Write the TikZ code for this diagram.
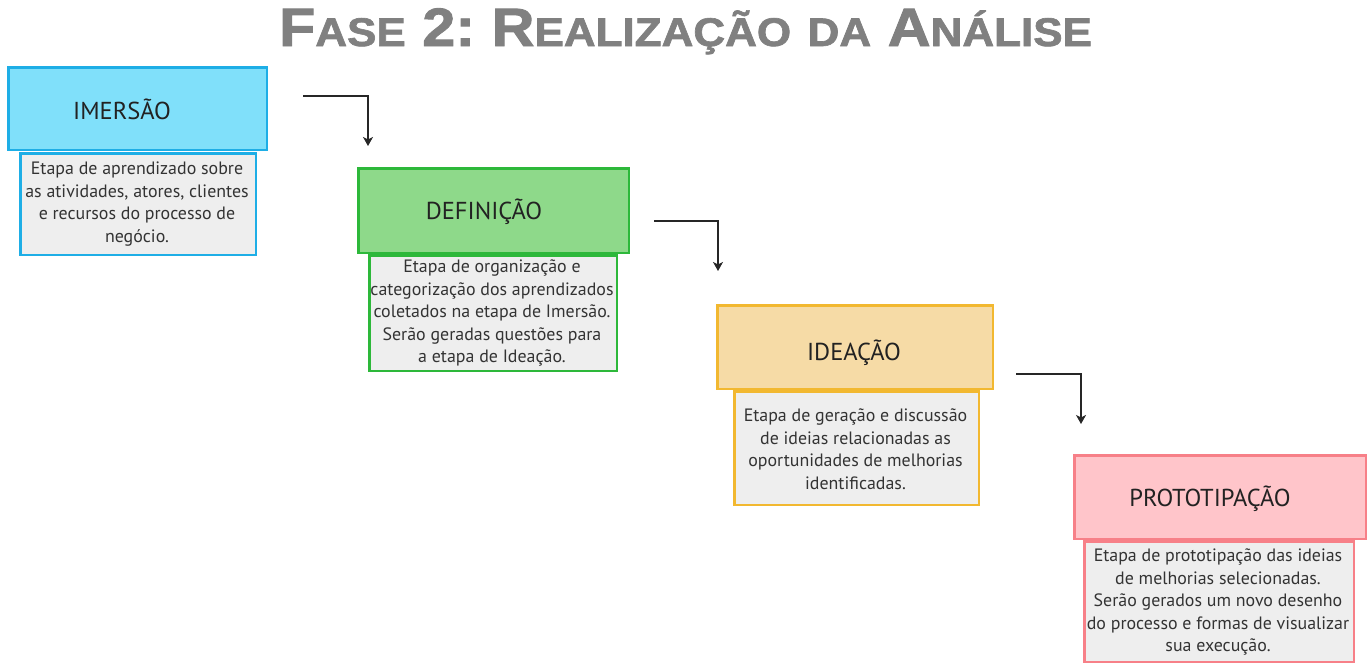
\documentclass[tikz,border=0pt]{standalone}
\usepackage{fontspec}
\setmainfont{PT Sans}
\newfontfamily\titlefont[FakeBold=1.6]{Liberation Sans Bold}
\usetikzlibrary{arrows.meta}
\definecolor{bluebd}{HTML}{1EAEE6}
\definecolor{bluefl}{HTML}{80E0FA}
\definecolor{greenbd}{HTML}{2DB83A}
\definecolor{greenfl}{HTML}{8ED98A}
\definecolor{yellowbd}{HTML}{F2B830}
\definecolor{yellowfl}{HTML}{F6DBA6}
\definecolor{pinkbd}{HTML}{F78088}
\definecolor{pinkfl}{HTML}{FFC5CA}
\definecolor{descfl}{HTML}{EEEEEE}
\definecolor{titlegray}{HTML}{808080}
\definecolor{txtdark}{HTML}{222222}
\definecolor{txtbody}{HTML}{333333}
\newcommand\tbg[1]{{\fontsize{54pt}{54pt}\selectfont #1}}
\newcommand\tsm[1]{{\fontsize{40pt}{40pt}\selectfont #1}}
\newcommand\tsp{\hspace{15pt}}
\tikzset{
  hdrbox/.style={draw, line width=2.8pt, rectangle, inner sep=0pt, anchor=north west},
  descbox/.style={draw, line width=2.8pt, rectangle, inner sep=0pt, fill=descfl, anchor=north west},
  hdrlabel/.style={anchor=base, inner sep=0pt, text=txtdark, font=\fontsize{24.5pt}{26pt}\selectfont},
  desclabel/.style={align=center, inner sep=0pt, text=txtbody, font=\fontsize{17.9pt}{22.5pt}\selectfont},
  conn/.style={draw=black!85, line width=1.2pt, -{Stealth[length=9pt,width=10pt,inset=2.5pt]}}
}
\begin{document}
\begin{tikzpicture}[x=1pt,y=-1pt]
\useasboundingbox (0,0) rectangle (1372,670);
% title
\node[anchor=base, inner sep=0pt, text=titlegray] (title) at (685.5,46)
  {\titlefont\scalebox{1.1}[1]{\tbg{F}\tsm{ASE}\tsp\tbg{2:}\tsp\tbg{R}\tsm{EALIZAÇÃO}\tsp\tsm{DA}\tsp\tbg{A}\tsm{NÁLISE}}};
% Imersao
\node[descbox, draw=bluebd, minimum width=235.2pt, minimum height=101.2pt] (imd) at (19.4,152.4) {};
\node[hdrbox, draw=bluebd, fill=bluefl, minimum width=258.2pt, minimum height=82.2pt] (imh) at (7.4,66.4) {};
\node[hdrlabel] (iml) at (122,119) {IMERSÃO};
\node[desclabel] (imt) at (137,204) {Etapa de aprendizado sobre\\as atividades, atores, clientes\\e recursos do processo de\\negócio.};
% Definicao
\node[descbox, draw=greenbd, minimum width=247.2pt, minimum height=115.2pt] (dfd) at (368.4,254.4) {};
\node[hdrbox, draw=greenbd, fill=greenfl, minimum width=270.2pt, minimum height=84.2pt] (dfh) at (357.4,167.4) {};
\node[hdrlabel] (dfl) at (484,219) {DEFINIÇÃO};
\node[desclabel] (dft) at (492,313) {Etapa de organização e\\categorização dos aprendizados\\coletados na etapa de Imersão.\\Serão geradas questões para\\a etapa de Ideação.};
% Ideacao
\node[descbox, draw=yellowbd, minimum width=244.2pt, minimum height=113.2pt] (idd) at (733.4,390.4) {};
\node[hdrbox, draw=yellowbd, fill=yellowfl, minimum width=275.2pt, minimum height=83.2pt] (idh) at (716.4,304.4) {};
\node[hdrlabel] (idl) at (854,360) {IDEAÇÃO};
\node[desclabel] (idt) at (855.5,449) {Etapa de geração e discussão\\de ideias relacionadas as\\oportunidades de melhorias\\identificadas.};
% Prototipacao
\node[descbox, draw=pinkbd, minimum width=269.2pt, minimum height=120.2pt] (ptd) at (1083.4,540.4) {};
\node[hdrbox, draw=pinkbd, fill=pinkfl, minimum width=291.2pt, minimum height=83.2pt] (pth) at (1073.4,454.4) {};
\node[hdrlabel] (ptl) at (1210,506) {PROTOTIPAÇÃO};
\node[desclabel] (ptt) at (1218,602) {Etapa de prototipação das ideias\\de melhorias selecionadas.\\Serão gerados um novo desenho\\do processo e formas de visualizar\\sua execução.};
% connectors
\coordinate (a1s) at (303,96);  \coordinate (a1e) at (368,146);
\coordinate (a2s) at (654,221); \coordinate (a2e) at (718,271);
\coordinate (a3s) at (1016,374); \coordinate (a3e) at (1081,424);
\draw[conn] (a1s) -| (a1e);
\draw[conn] (a2s) -| (a2e);
\draw[conn] (a3s) -| (a3e);
\end{tikzpicture}
\end{document}
